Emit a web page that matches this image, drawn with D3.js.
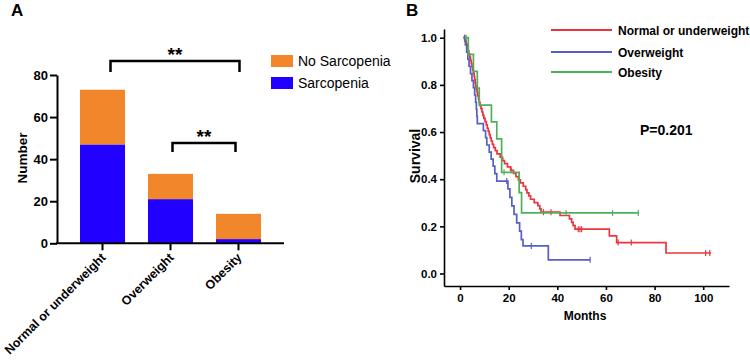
<!DOCTYPE html>
<html><head><meta charset="utf-8">
<script src="https://cdn.jsdelivr.net/npm/d3@7"></script>
<style>
html,body{margin:0;padding:0;background:#fff;}
svg{display:block;}
text{font-family:"Liberation Sans",Arial,sans-serif;}
</style></head>
<body>
<script>
// ---------- Panel A data ----------
const categories = ["Normal or underweight", "Overweight", "Obesity"];
const sarcopenia = [47, 21, 2];
const noSarcopenia = [26, 12, 12];
const yTicksA = [0, 20, 40, 60, 80];
const seriesNames = ["No Sarcopenia", "Sarcopenia"];

// ---------- Panel B data (Kaplan-Meier) ----------
const groups = ["Normal or underweight", "Overweight", "Obesity"];
const normalStart = 1.4, normalEnd = 103.2;
const normalSteps = [[2.0,0.986],[2.5,0.973],[3.0,0.959],[3.3,0.945],[3.6,0.932],[4.0,0.918],[4.3,0.904],[4.6,0.890],[4.9,0.877],[5.2,0.863],[5.5,0.849],[5.8,0.836],[6.0,0.822],[6.2,0.808],[6.4,0.795],[6.7,0.781],[7.0,0.767],[7.3,0.753],[7.6,0.740],[7.9,0.726],[8.2,0.712],[8.6,0.699],[9.0,0.685],[9.4,0.671],[9.8,0.658],[10.3,0.644],[10.8,0.630],[11.2,0.616],[11.6,0.603],[12.0,0.589],[12.4,0.575],[12.8,0.562],[13.3,0.548],[13.8,0.534],[14.5,0.521],[15.2,0.507],[16.5,0.493],[17.5,0.479],[18.3,0.466],[19.5,0.452],[20.8,0.438],[22.0,0.425],[23.0,0.411],[24.0,0.397],[24.8,0.384],[26.0,0.370],[27.0,0.356],[27.5,0.342],[28.3,0.329],[29.0,0.315],[30.5,0.301],[32.0,0.288],[32.8,0.274],[33.3,0.260],[41.1,0.246],[45.0,0.232],[45.9,0.217],[46.5,0.203],[47.3,0.188],[61.4,0.160],[64.4,0.131],[84.7,0.087]];
const normalCensor = [1.8, 21.0, 34.3, 37.4, 48.6, 49.3, 50.0, 65.0, 70.4, 101.0, 102.7];

const overStart = 1.4, overEnd = 53.5;
const overSteps = [[2.2,0.970],[2.7,0.939],[3.2,0.909],[3.7,0.879],[4.3,0.848],[4.9,0.818],[5.5,0.788],[6.0,0.758],[6.4,0.727],[6.7,0.697],[6.9,0.667],[7.1,0.636],[9.6,0.606],[10.5,0.576],[11.0,0.545],[12.0,0.515],[12.8,0.485],[13.6,0.455],[14.3,0.424],[15.1,0.392],[19.7,0.359],[20.5,0.323],[21.3,0.287],[22.2,0.251],[23.3,0.215],[24.5,0.180],[25.2,0.144],[25.9,0.117],[36.3,0.058]];
const overCensor = [2.0, 19.2, 29.3, 53.5];

const obeseStart = 2.0, obeseEnd = 73.3;
const obeseSteps = [[3.4,0.929],[5.5,0.857],[7.1,0.786],[7.9,0.714],[12.9,0.643],[15.1,0.571],[17.1,0.429],[24.3,0.343],[25.3,0.257]];
const obeseCensor = [2.5, 18.1, 43.6, 62.7, 73.3];

const xTicksB = [0, 20, 40, 60, 80, 100];
const yTicksB = [0, 0.2, 0.4, 0.6, 0.8, 1.0];
const pValueText = "P=0.201";

// ---------- styles ----------
const barColors = {"No Sarcopenia": "#f2862b", "Sarcopenia": "#2200ff"};
const kmColors = ["#e8363e", "#5660c2", "#4fb05a"];
const FONT = '"Liberation Sans",Arial,sans-serif';

const svg = d3.select("body").append("svg").attr("width", 750).attr("height", 362);

// ================= Panel A =================
const gA = svg.append("g");
gA.append("text").attr("x", 11).attr("y", 16).attr("font-size", 17).attr("font-weight", "bold").text("A");

const xA = d3.scaleBand().domain(categories).range([80, 261]).paddingInner(0.338).paddingOuter(0);
const yA = d3.scaleLinear().domain([0, 80]).range([243.3, 75]);

const stackData = categories.map((c, i) => ({cat: c, "Sarcopenia": sarcopenia[i], "No Sarcopenia": noSarcopenia[i]}));
const stacked = d3.stack().keys(["Sarcopenia", "No Sarcopenia"])(stackData);

gA.selectAll("g.layer").data(stacked).join("g").attr("class", "layer")
  .attr("fill", d => barColors[d.key])
  .selectAll("rect").data(d => d).join("rect")
  .attr("x", d => xA(d.data.cat))
  .attr("width", xA.bandwidth())
  .attr("y", d => yA(d[1]))
  .attr("height", d => yA(d[0]) - yA(d[1]));

// y axis
const yAxisA = gA.append("g").attr("transform", "translate(57,0)")
  .call(d3.axisLeft(yA).tickValues(yTicksA).tickSize(7).tickPadding(2).tickSizeOuter(0));
yAxisA.select(".domain").attr("stroke", "#000").attr("stroke-width", 2);
yAxisA.selectAll(".tick line").attr("stroke-width", 2);
yAxisA.selectAll(".tick text").attr("font-size", 13).attr("font-weight", "bold").attr("font-family", FONT).attr("fill", "#000");

// x axis
const xAxisA = gA.append("g").attr("transform", "translate(0,243.3)")
  .call(d3.axisBottom(xA).tickSize(7).tickSizeOuter(0));
xAxisA.select(".domain").attr("d", "M56,0H284").attr("stroke", "#000").attr("stroke-width", 2);
xAxisA.selectAll(".tick line").attr("stroke-width", 2);
xAxisA.selectAll(".tick text")
  .attr("font-size", 12.5).attr("font-weight", "bold").attr("font-family", FONT).attr("fill", "#000")
  .attr("text-anchor", "end").attr("dy", null).attr("y", 0)
  .attr("transform", "translate(4,15) rotate(-45)");

gA.append("text").attr("transform", "translate(27,158) rotate(-90)")
  .attr("text-anchor", "middle").attr("font-size", 13.5).attr("font-weight", "bold").text("Number");

// significance brackets
function bracket(x1, x2, y, drop, label, ly) {
  gA.append("path").attr("d", `M${x1},${y + drop}V${y}H${x2}V${y + drop}`)
    .attr("fill", "none").attr("stroke", "#000").attr("stroke-width", 2.5);
  gA.append("text").attr("x", (x1 + x2) / 2).attr("y", ly).attr("text-anchor", "middle")
    .attr("font-size", 19).attr("font-weight", "bold").text(label);
}
const cx = c => xA(c) + xA.bandwidth() / 2;
bracket(cx(categories[0]) + 8, cx(categories[2]) + 1, 61, 11, "**", 61);
bracket(cx(categories[1]) + 2, cx(categories[2]) - 3, 143, 9, "**", 143);

// legend A
seriesNames.forEach((s, i) => {
  gA.append("rect").attr("x", 271).attr("y", 55 + i * 22).attr("width", 22).attr("height", 12).attr("fill", barColors[s]);
  gA.append("text").attr("x", 298).attr("y", 66 + i * 22).attr("font-size", 14).text(s);
});

// ================= Panel B =================
const gB = svg.append("g");
gB.append("text").attr("x", 406).attr("y", 16).attr("font-size", 17).attr("font-weight", "bold").text("B");

const xB = d3.scaleLinear().domain([-6.6, 110.6]).range([444, 729]);
const yB = d3.scaleLinear().domain([-0.053, 1.037]).range([286, 29]);

const xAxisB = gB.append("g").attr("transform", "translate(0,286)")
  .call(d3.axisBottom(xB).tickValues(xTicksB).tickSize(4).tickPadding(4).tickSizeOuter(0));
const yAxisB = gB.append("g").attr("transform", "translate(444,0)")
  .call(d3.axisLeft(yB).tickValues(yTicksB).tickFormat(d3.format(".1f")).tickSize(4).tickPadding(3).tickSizeOuter(0));
[xAxisB, yAxisB].forEach(ax => {
  ax.select(".domain").attr("stroke", "#000").attr("stroke-width", 1.6);
  ax.selectAll(".tick line").attr("stroke-width", 1.6);
  ax.selectAll(".tick text").attr("font-size", 11.5).attr("font-weight", "bold").attr("font-family", FONT).attr("fill", "#000");
});

gB.append("text").attr("x", 585).attr("y", 320).attr("text-anchor", "middle")
  .attr("font-size", 12).attr("font-weight", "bold").text("Months");
gB.append("text").attr("transform", "translate(420,156) rotate(-90)").attr("text-anchor", "middle")
  .attr("font-size", 14).attr("font-weight", "bold").text("Survival");
gB.append("text").attr("x", 640).attr("y", 135).attr("font-size", 14).attr("font-weight", "bold").text(pValueText);

const kmSeries = [
  {start: normalStart, end: normalEnd, steps: normalSteps, censor: normalCensor},
  {start: overStart, end: overEnd, steps: overSteps, censor: overCensor},
  {start: obeseStart, end: obeseEnd, steps: obeseSteps, censor: obeseCensor}
];
const stepLine = d3.line().x(d => xB(d[0])).y(d => yB(d[1])).curve(d3.curveStepAfter);

function survAt(s, t) {
  let v = 1;
  for (const [tt, sv] of s.steps) { if (tt <= t) v = sv; }
  return v;
}

kmSeries.forEach((s, i) => {
  const pts = [[s.start, 1], ...s.steps, [s.end, s.steps[s.steps.length - 1][1]]];
  gB.append("path").attr("d", stepLine(pts)).attr("fill", "none")
    .attr("stroke", kmColors[i]).attr("stroke-width", 1.7);
  gB.selectAll(null).data(s.censor).join("line")
    .attr("x1", d => xB(d)).attr("x2", d => xB(d))
    .attr("y1", d => yB(survAt(s, d)) - 3).attr("y2", d => yB(survAt(s, d)) + 3)
    .attr("stroke", kmColors[i]).attr("stroke-width", 1.2);
});

// legend B
groups.forEach((g, i) => {
  const ly = [30, 52, 72][i];
  gB.append("line").attr("x1", 551).attr("x2", 612).attr("y1", ly).attr("y2", ly)
    .attr("stroke", kmColors[i]).attr("stroke-width", 2);
  gB.append("text").attr("x", 618).attr("y", ly + 4.5).attr("font-size", 12).attr("font-weight", "bold").text(g);
});
</script>
</body></html>
